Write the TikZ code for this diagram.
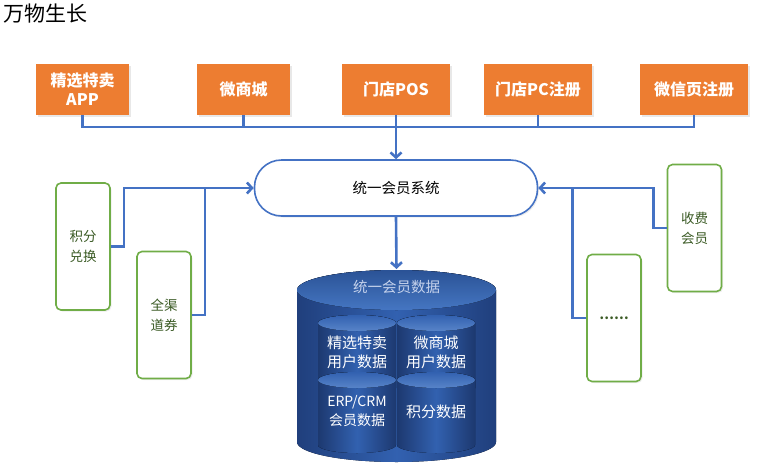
\documentclass[tikz,border=0pt]{standalone}
\usepackage{fontspec}
\setmainfont{Noto Sans CJK SC}
\usetikzlibrary{arrows.meta,positioning,calc,shadows}

\definecolor{chengse}{HTML}{ED7D31}
\definecolor{lanxian}{HTML}{4472C4}
\definecolor{lvbian}{HTML}{70AD47}
\definecolor{lvzi}{HTML}{3B5B25}
\definecolor{shenlan}{HTML}{203F7C}
\definecolor{zhonglan}{HTML}{3261B0}
\definecolor{qianlan}{HTML}{4576C2}
\definecolor{huilan}{HTML}{C5D2EC}

\tikzset{
  qudao/.style={fill=chengse, text=white, font=\fontsize{16}{19}\selectfont\bfseries,
    minimum height=51pt, align=center, inner sep=0pt,
    drop shadow={opacity=0.18, shadow xshift=1.5pt, shadow yshift=-1.5pt}},
  huodong/.style={draw=lvbian, line width=1.6pt, rounded corners=5pt, fill=white,
    minimum width=54pt, minimum height=127pt, inner sep=0pt, text=lvzi,
    font=\fontsize{13.5}{20}\selectfont, align=center,
    drop shadow={opacity=0.15, shadow xshift=1.5pt, shadow yshift=-1.5pt}},
  lianxian/.style={draw=lanxian, line width=2.6pt},
  jiantou/.style={lianxian, -{Straight Barb[length=5pt,width=11pt]}},
  shujuzi/.style={text=white, font=\fontsize{15}{19}\selectfont, align=center}
}

\begin{document}
\begin{tikzpicture}[x=1pt,y=-1pt]
  \useasboundingbox (0,0) rectangle (763,472);

  % ---- 标题 ----
  \node[anchor=west, font=\fontsize{21}{24}\selectfont] (biaoti) at (0,14) {万物生长};

  % ---- 顶部渠道（橙色方块） ----
  \node[qudao, minimum width=93pt]  (app)  at (82.5,89.5) {精选特卖\\APP};
  \node[qudao, minimum width=93pt]  (wsc)  at (243.5,89.5) {微商城};
  \node[qudao, minimum width=108pt] (pos)  at (396,89.5) {门店POS};
  \node[qudao, minimum width=108pt] (pczc) at (538,89.5) {门店PC注册};
  \node[qudao, minimum width=108pt] (wxy)  at (694,89.5) {微信页注册};

  % ---- 统一会员系统（圆角长条） ----
  \node[draw=lanxian, line width=1.6pt, fill=white, rounded corners=27pt,
        minimum width=283pt, minimum height=56pt,
        font=\fontsize{14.5}{17}\selectfont,
        drop shadow={opacity=0.15, shadow xshift=1.5pt, shadow yshift=-1.5pt}]
        (sys) at (396,188) {统一会员系统};

  % ---- 左右两侧的活动（绿色框） ----
  \node[huodong] (jfdh)    at (83,246.5)  {积分\\兑换};
  \node[huodong] (qqdq)    at (164,315)   {全渠\\道券};
  \node[huodong] (sfhy)    at (694.5,228) {收费\\会员};
  \node[huodong, font=\fontsize{13}{20}\selectfont\bfseries] (gengduo) at (614,318) {……};

  % ---- 顶部汇总线 ----
  \coordinate (zongxian) at (0,127);
  \draw[lianxian] (app.south) |- (wxy.south |- zongxian) -- (wxy.south);
  \foreach \n in {wsc,pczc}
    \draw[lianxian] (\n.south) -- (\n.south |- zongxian);
  \draw[jiantou] (pos.south) -- (pos.south |- sys.north);

  % ---- 左侧连线 ----
  \draw[jiantou] (jfdh.east) -- ++(13,0) |- (sys.west);
  \draw[lianxian] (qqdq.east) -- ++(13,0) coordinate (zq) -- (zq |- sys.west);

  % ---- 右侧连线 ----
  \draw[jiantou] (sfhy.west) -- ++(-13,0) |- (sys.east);
  \draw[lianxian] (gengduo.west) -- ++(-14,0) coordinate (yq) -- (yq |- sys.east);

  % ---- 统一会员数据（大圆柱） ----
  \fill[left color=shenlan, right color=shenlan, middle color=zhonglan]
    (297,290) -- (297,442)
    arc[start angle=180, end angle=360, x radius=99.5pt, y radius=20pt]
    -- (496,290)
    arc[start angle=0, end angle=180, x radius=99.5pt, y radius=20pt] -- cycle;
  \fill[top color=zhonglan!85!black, bottom color=qianlan]
    (396.5,290) ellipse[x radius=99.5pt, y radius=20pt];
  \coordinate (dbtop) at (396.5,269);
  \draw[jiantou] (sys.south) -- (dbtop);
  \node[text=huilan, font=\fontsize{14.5}{17}\selectfont] (dbname) at (396.5,287) {统一会员数据};

  % 四个小圆柱（先上排，后下排）
  \foreach \cx/\cy in {357/323, 436/323, 357/380, 436/380} {
    \fill[left color=shenlan!90!black, right color=shenlan!90!black, middle color=zhonglan]
      (\cx-39,\cy) -- (\cx-39,\cy+65)
      arc[start angle=180, end angle=360, x radius=39pt, y radius=8pt]
      -- (\cx+39,\cy)
      arc[start angle=0, end angle=180, x radius=39pt, y radius=8pt] -- cycle;
    \fill[top color=zhonglan, bottom color=qianlan!90!white]
      (\cx,\cy) ellipse[x radius=39pt, y radius=8pt];
  }
  \node[shujuzi] (jxsj)  at (357,352) {精选特卖\\用户数据};
  \node[shujuzi] (wscsj) at (436,352) {微商城\\用户数据};
  \node[shujuzi, font=\fontsize{14}{19}\selectfont] (erpsj) at (357,411) {ERP/CRM\\会员数据};
  \node[shujuzi] (jfsj)  at (436,412) {积分数据};
\end{tikzpicture}
\end{document}
